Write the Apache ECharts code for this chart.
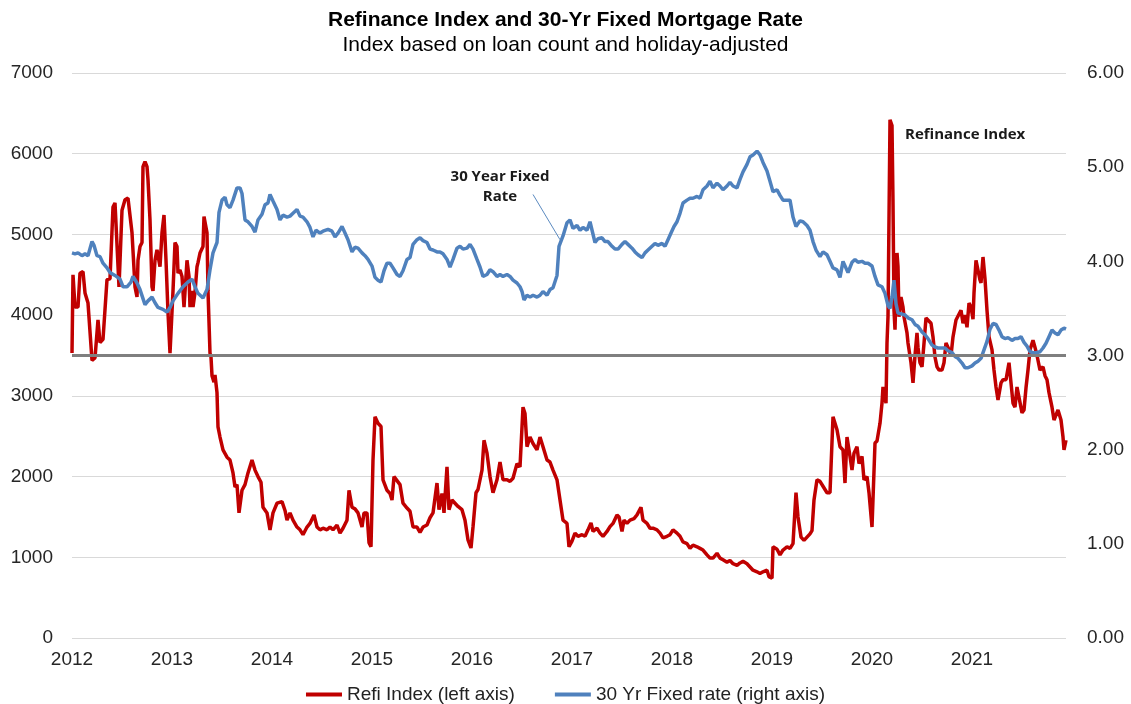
<!DOCTYPE html>
<html>
<head>
<meta charset="utf-8">
<title>Refinance Index and 30-Yr Fixed Mortgage Rate</title>
<script src="https://cdn.jsdelivr.net/npm/echarts@6/dist/echarts.min.js"></script>
<style>
  html, body { margin: 0; padding: 0; background: #fff; }
  #main { width: 1131px; height: 704px; }
</style>
</head>
<body>
<div id="main"></div>
<script>
// x values are years elapsed since Jan 2012
const startYear = 2012
const endYear = 2021.94
const seriesNames = ['Refi Index (left axis)', '30 Yr Fixed rate (right axis)']

// refinance index, left axis
const refi = [
  [0.00, 3530], [0.01, 4500], [0.03, 4100], [0.06, 4100], [0.08, 4520], [0.11, 4540], [0.13, 4275], [0.16, 4150],
  [0.20, 3440], [0.23, 3470], [0.26, 3940], [0.28, 3660], [0.31, 3700], [0.35, 4440], [0.38, 4450], [0.41, 5340],
  [0.43, 5390], [0.45, 5370], [0.47, 4350], [0.50, 5300], [0.53, 5430], [0.56, 5450], [0.60, 5020], [0.63, 4350],
  [0.65, 4225], [0.66, 4680], [0.68, 4850], [0.70, 4900], [0.71, 5840], [0.73, 5900], [0.75, 5840], [0.76, 5675],
  [0.78, 5180], [0.80, 4350], [0.81, 4300], [0.83, 4680], [0.85, 4810], [0.86, 4790], [0.88, 4600], [0.90, 5020],
  [0.92, 5240], [0.94, 4680], [0.96, 4030], [0.98, 3530], [1.01, 4300], [1.03, 4900], [1.05, 4850], [1.06, 4520],
  [1.08, 4560], [1.10, 4480], [1.12, 4100], [1.14, 4480], [1.15, 4680], [1.17, 4480], [1.18, 4100], [1.20, 4300],
  [1.21, 4100], [1.23, 4280], [1.25, 4600], [1.26, 4650], [1.28, 4770], [1.31, 4850], [1.32, 5220], [1.35, 5020],
  [1.36, 4300], [1.38, 3530], [1.39, 3480], [1.40, 3250], [1.42, 3170], [1.43, 3260], [1.45, 3040], [1.46, 2615],
  [1.48, 2490], [1.51, 2330], [1.55, 2240], [1.58, 2205], [1.61, 2045], [1.63, 1870], [1.65, 1900], [1.67, 1550],
  [1.70, 1830], [1.73, 1900], [1.76, 2045], [1.80, 2205], [1.83, 2080], [1.86, 2000], [1.89, 1930], [1.91, 1620],
  [1.95, 1550], [1.98, 1340], [2.01, 1550], [2.05, 1670], [2.10, 1690], [2.13, 1580], [2.15, 1460], [2.18, 1550],
  [2.21, 1460], [2.25, 1375], [2.28, 1340], [2.31, 1280], [2.35, 1375], [2.38, 1420], [2.42, 1525], [2.45, 1375],
  [2.48, 1340], [2.51, 1360], [2.55, 1340], [2.58, 1375], [2.61, 1340], [2.65, 1400], [2.68, 1300], [2.71, 1360],
  [2.75, 1460], [2.77, 1830], [2.80, 1620], [2.83, 1600], [2.86, 1550], [2.90, 1375], [2.92, 1550], [2.95, 1550],
  [2.97, 1180], [2.99, 1130], [3.01, 2205], [3.03, 2740], [3.06, 2660], [3.09, 2620], [3.11, 1960], [3.15, 1830],
  [3.18, 1790], [3.20, 1710], [3.22, 2000], [3.25, 1950], [3.28, 1900], [3.31, 1670], [3.35, 1610], [3.38, 1570],
  [3.41, 1375], [3.45, 1375], [3.48, 1310], [3.51, 1375], [3.55, 1400], [3.58, 1490], [3.61, 1550], [3.65, 1920],
  [3.67, 1590], [3.70, 1790], [3.72, 1550], [3.75, 2120], [3.77, 1590], [3.80, 1710], [3.83, 1670], [3.86, 1630],
  [3.90, 1590], [3.93, 1460], [3.96, 1215], [3.99, 1115], [4.01, 1375], [4.04, 1800], [4.06, 1840], [4.10, 2080],
  [4.12, 2450], [4.15, 2290], [4.18, 2000], [4.21, 1800], [4.25, 1960], [4.28, 2180], [4.31, 1960], [4.35, 1960],
  [4.38, 1940], [4.41, 1980], [4.45, 2160], [4.48, 2120], [4.51, 2860], [4.53, 2780], [4.55, 2370], [4.58, 2490],
  [4.61, 2410], [4.65, 2330], [4.68, 2490], [4.71, 2370], [4.75, 2205], [4.78, 2180], [4.81, 2080], [4.85, 1960],
  [4.88, 1710], [4.91, 1460], [4.95, 1420], [4.97, 1130], [5.00, 1200], [5.03, 1300], [5.06, 1260], [5.10, 1280],
  [5.13, 1260], [5.16, 1340], [5.19, 1425], [5.21, 1320], [5.25, 1360], [5.28, 1300], [5.31, 1260], [5.35, 1320],
  [5.38, 1380], [5.41, 1420], [5.45, 1525], [5.47, 1500], [5.50, 1320], [5.52, 1460], [5.55, 1420], [5.58, 1460],
  [5.62, 1480], [5.65, 1525], [5.69, 1620], [5.71, 1460], [5.75, 1420], [5.78, 1360], [5.81, 1360], [5.85, 1340],
  [5.88, 1300], [5.91, 1240], [5.95, 1260], [5.98, 1280], [6.01, 1340], [6.05, 1300], [6.08, 1260], [6.11, 1190],
  [6.15, 1170], [6.18, 1110], [6.21, 1150], [6.25, 1130], [6.28, 1110], [6.31, 1090], [6.35, 1030], [6.38, 990],
  [6.41, 990], [6.45, 1050], [6.48, 990], [6.51, 970], [6.55, 940], [6.58, 960], [6.61, 920], [6.65, 900],
  [6.68, 930], [6.71, 950], [6.75, 920], [6.78, 880], [6.81, 840], [6.85, 820], [6.88, 800], [6.91, 820],
  [6.95, 840], [6.97, 760], [7.00, 740], [7.01, 1130], [7.05, 1100], [7.08, 1030], [7.11, 1090], [7.15, 1130],
  [7.18, 1110], [7.21, 1170], [7.24, 1800], [7.26, 1500], [7.29, 1250], [7.32, 1210], [7.35, 1250], [7.38, 1290],
  [7.40, 1330], [7.42, 1710], [7.45, 1960], [7.48, 1940], [7.51, 1880], [7.55, 1800], [7.58, 1800], [7.61, 2740],
  [7.63, 2760], [7.65, 2580], [7.68, 2370], [7.71, 2330], [7.73, 1920], [7.75, 2490], [7.78, 2250], [7.80, 2080],
  [7.82, 2290], [7.85, 2370], [7.87, 2160], [7.90, 2250], [7.92, 1960], [7.95, 2000], [7.97, 1800], [8.00, 1375],
  [8.03, 2415], [8.05, 2440], [8.08, 2660], [8.10, 2910], [8.11, 3110], [8.13, 3100], [8.14, 2910], [8.15, 3655],
  [8.16, 3980], [8.18, 6420], [8.20, 6350], [8.21, 5400], [8.22, 4060], [8.23, 3820], [8.25, 4770], [8.26, 4600],
  [8.27, 3980], [8.29, 4225], [8.31, 4100], [8.32, 3980], [8.35, 3780], [8.36, 3655], [8.39, 3410], [8.41, 3160],
  [8.43, 3500], [8.45, 3780], [8.46, 3600], [8.48, 3410], [8.50, 3360], [8.52, 3650], [8.54, 3965], [8.56, 3980],
  [8.59, 3900], [8.61, 3730], [8.63, 3480], [8.65, 3360], [8.67, 3320], [8.70, 3320], [8.72, 3410], [8.74, 3655],
  [8.76, 3600], [8.79, 3500], [8.81, 3730], [8.84, 3940], [8.86, 3950], [8.89, 4060], [8.91, 3900], [8.93, 4000],
  [8.95, 3850], [8.97, 4150], [8.99, 4100], [9.01, 3950], [9.02, 4275], [9.04, 4680], [9.06, 4700], [9.08, 4435],
  [9.09, 4400], [9.11, 4720], [9.13, 4450], [9.15, 4060], [9.17, 3730], [9.20, 3570], [9.22, 3320], [9.24, 3110],
  [9.26, 2950], [9.29, 3160], [9.31, 3200], [9.34, 3200], [9.37, 3410], [9.39, 3160], [9.41, 2910], [9.43, 2860],
  [9.45, 3110], [9.47, 3110], [9.50, 2790], [9.52, 2825], [9.54, 3100], [9.56, 3320], [9.58, 3570], [9.61, 3690],
  [9.63, 3600], [9.65, 3500], [9.68, 3320], [9.71, 3360], [9.73, 3250], [9.75, 3200], [9.77, 3040], [9.80, 2860],
  [9.82, 2700], [9.84, 2700], [9.86, 2825], [9.89, 2700], [9.91, 2490], [9.92, 2330], [9.94, 2450]
]

// 30 year fixed rate, right axis
const rate = [
  [0.00, 4.09], [0.03, 4.08], [0.06, 4.09], [0.10, 4.06], [0.13, 4.08], [0.16, 4.06], [0.20, 4.21], [0.22, 4.17],
  [0.25, 4.06], [0.28, 4.05], [0.31, 3.98], [0.35, 3.93], [0.38, 3.88], [0.43, 3.85], [0.48, 3.81], [0.51, 3.73],
  [0.55, 3.73], [0.59, 3.78], [0.61, 3.84], [0.65, 3.77], [0.68, 3.70], [0.73, 3.54], [0.76, 3.58], [0.80, 3.62],
  [0.83, 3.56], [0.86, 3.51], [0.91, 3.49], [0.95, 3.46], [0.98, 3.51], [1.01, 3.58], [1.06, 3.66], [1.11, 3.73],
  [1.16, 3.78], [1.20, 3.81], [1.23, 3.73], [1.26, 3.66], [1.31, 3.61], [1.35, 3.70], [1.38, 3.91], [1.41, 4.09],
  [1.45, 4.20], [1.47, 4.52], [1.50, 4.65], [1.53, 4.68], [1.55, 4.60], [1.58, 4.57], [1.61, 4.65], [1.65, 4.78],
  [1.68, 4.78], [1.70, 4.72], [1.73, 4.44], [1.76, 4.42], [1.80, 4.37], [1.83, 4.31], [1.86, 4.44], [1.90, 4.50],
  [1.93, 4.60], [1.96, 4.62], [1.98, 4.71], [2.01, 4.64], [2.05, 4.55], [2.08, 4.44], [2.11, 4.49], [2.15, 4.47],
  [2.18, 4.48], [2.21, 4.51], [2.25, 4.55], [2.28, 4.48], [2.31, 4.47], [2.35, 4.42], [2.38, 4.36], [2.41, 4.26],
  [2.44, 4.33], [2.48, 4.30], [2.51, 4.32], [2.56, 4.34], [2.60, 4.32], [2.63, 4.26], [2.66, 4.30], [2.70, 4.37],
  [2.73, 4.30], [2.76, 4.23], [2.80, 4.10], [2.83, 4.15], [2.86, 4.14], [2.90, 4.09], [2.93, 4.06], [2.96, 4.02],
  [3.00, 3.95], [3.03, 3.83], [3.06, 3.80], [3.09, 3.78], [3.12, 3.90], [3.15, 3.98], [3.18, 3.98], [3.21, 3.93],
  [3.25, 3.86], [3.28, 3.84], [3.31, 3.90], [3.35, 4.02], [3.38, 4.04], [3.41, 4.18], [3.45, 4.23], [3.48, 4.25],
  [3.51, 4.22], [3.55, 4.20], [3.58, 4.13], [3.61, 4.12], [3.65, 4.10], [3.68, 4.10], [3.71, 4.08], [3.75, 4.02],
  [3.78, 3.94], [3.81, 4.02], [3.85, 4.14], [3.88, 4.16], [3.91, 4.13], [3.95, 4.14], [3.98, 4.18], [4.01, 4.13],
  [4.05, 4.02], [4.08, 3.94], [4.11, 3.84], [4.15, 3.86], [4.18, 3.91], [4.21, 3.89], [4.25, 3.84], [4.28, 3.86],
  [4.31, 3.84], [4.35, 3.86], [4.38, 3.84], [4.41, 3.80], [4.45, 3.77], [4.48, 3.73], [4.50, 3.68], [4.52, 3.59],
  [4.55, 3.64], [4.58, 3.62], [4.61, 3.64], [4.65, 3.62], [4.68, 3.64], [4.71, 3.68], [4.75, 3.64], [4.78, 3.70],
  [4.81, 3.72], [4.85, 3.85], [4.87, 4.16], [4.91, 4.27], [4.95, 4.41], [4.98, 4.44], [5.01, 4.35], [5.05, 4.38],
  [5.08, 4.33], [5.11, 4.36], [5.15, 4.33], [5.18, 4.42], [5.20, 4.44], [5.23, 4.20], [5.26, 4.24], [5.30, 4.25],
  [5.33, 4.21], [5.36, 4.21], [5.40, 4.16], [5.43, 4.13], [5.46, 4.13], [5.50, 4.18], [5.53, 4.21], [5.56, 4.18],
  [5.60, 4.14], [5.63, 4.10], [5.66, 4.07], [5.70, 4.04], [5.73, 4.09], [5.76, 4.12], [5.80, 4.16], [5.83, 4.19],
  [5.86, 4.17], [5.90, 4.19], [5.93, 4.16], [5.96, 4.23], [5.99, 4.30], [6.02, 4.37], [6.05, 4.42], [6.08, 4.51],
  [6.11, 4.62], [6.15, 4.65], [6.18, 4.67], [6.21, 4.67], [6.25, 4.69], [6.28, 4.67], [6.31, 4.76], [6.35, 4.80],
  [6.38, 4.85], [6.41, 4.78], [6.45, 4.83], [6.48, 4.80], [6.51, 4.76], [6.55, 4.80], [6.58, 4.84], [6.61, 4.80],
  [6.65, 4.78], [6.68, 4.87], [6.71, 4.95], [6.75, 5.03], [6.78, 5.11], [6.81, 5.13], [6.85, 5.17], [6.88, 5.13],
  [6.91, 5.05], [6.95, 4.96], [6.98, 4.85], [7.01, 4.74], [7.05, 4.76], [7.08, 4.70], [7.11, 4.65], [7.15, 4.65],
  [7.18, 4.65], [7.21, 4.47], [7.24, 4.37], [7.28, 4.43], [7.31, 4.42], [7.35, 4.38], [7.38, 4.33], [7.41, 4.21],
  [7.44, 4.12], [7.48, 4.05], [7.51, 4.10], [7.55, 4.07], [7.58, 4.00], [7.61, 3.93], [7.65, 3.91], [7.68, 3.83],
  [7.71, 4.00], [7.73, 4.00], [7.76, 3.88], [7.80, 3.99], [7.83, 4.02], [7.86, 3.99], [7.90, 4.00], [7.93, 3.98],
  [7.96, 3.98], [8.00, 3.95], [8.03, 3.84], [8.06, 3.75], [8.10, 3.73], [8.13, 3.66], [8.16, 3.53], [8.18, 3.50],
  [8.20, 3.62], [8.22, 3.80], [8.24, 3.55], [8.26, 3.45], [8.30, 3.44], [8.33, 3.43], [8.36, 3.40], [8.40, 3.38],
  [8.43, 3.33], [8.46, 3.31], [8.50, 3.25], [8.53, 3.22], [8.56, 3.18], [8.60, 3.11], [8.63, 3.09], [8.66, 3.08],
  [8.70, 3.08], [8.73, 3.08], [8.76, 3.05], [8.80, 3.03], [8.83, 2.99], [8.86, 2.97], [8.90, 2.92], [8.93, 2.87],
  [8.96, 2.87], [9.00, 2.89], [9.03, 2.92], [9.06, 2.94], [9.09, 2.97], [9.12, 3.06], [9.15, 3.15], [9.18, 3.28],
  [9.21, 3.34], [9.24, 3.33], [9.27, 3.27], [9.30, 3.20], [9.33, 3.18], [9.36, 3.19], [9.40, 3.16], [9.43, 3.18],
  [9.46, 3.18], [9.49, 3.20], [9.52, 3.14], [9.55, 3.10], [9.58, 3.04], [9.61, 3.03], [9.64, 3.03], [9.68, 3.04],
  [9.71, 3.08], [9.74, 3.13], [9.77, 3.20], [9.80, 3.27], [9.83, 3.24], [9.86, 3.22], [9.89, 3.27], [9.92, 3.29],
  [9.94, 3.28]
]

// reference line (3500 on left = 3.00 on right) and the pointer of the rate label
const refLevel = 3500
const ratePointer = [[4.61, 4.71], [4.88, 4.23]]

const font = 'Liberation Sans, Arial, Helvetica, sans-serif'
const toYear = arr => arr.map(p => [startYear + p[0], p[1]])

let chart = echarts.init(document.getElementById('main'))
let option = {
  animation: false,
  backgroundColor: '#ffffff',
  title: {
    text: 'Refinance Index and 30-Yr Fixed Mortgage Rate',
    subtext: 'Index based on loan count and holiday-adjusted',
    left: 'center',
    top: 5,
    itemGap: 4,
    textStyle: { fontFamily: font, fontSize: 21, fontWeight: 'bold', color: '#000' },
    subtextStyle: { fontFamily: font, fontSize: 21, color: '#000' }
  },
  legend: {
    data: seriesNames,
    left: 'center',
    top: 680,
    icon: 'rect',
    itemWidth: 36,
    itemHeight: 4,
    itemGap: 40,
    textStyle: { fontFamily: font, fontSize: 19, color: '#222' }
  },
  grid: { left: 72, right: 65, top: 73, bottom: 66 },
  xAxis: {
    type: 'value',
    min: startYear,
    max: endYear,
    interval: 1,
    axisLine: { show: false },
    axisTick: { show: false },
    splitLine: { show: false },
    axisLabel: {
      fontFamily: font, fontSize: 19, color: '#262626', margin: 12,
      showMaxLabel: false,
      formatter: v => Number.isInteger(v) ? String(v) : ''
    }
  },
  yAxis: [
    {
      type: 'value', min: 0, max: 7000, interval: 1000,
      axisLine: { show: false }, axisTick: { show: false },
      splitLine: { lineStyle: { color: '#d9d9d9', width: 1 } },
      axisLabel: { fontFamily: font, fontSize: 19, color: '#262626', margin: 19, formatter: v => String(v) }
    },
    {
      type: 'value', min: 0, max: 6, interval: 1, position: 'right',
      axisLine: { show: false }, axisTick: { show: false },
      splitLine: { show: false },
      axisLabel: { fontFamily: font, fontSize: 19, color: '#262626', margin: 21, formatter: v => v.toFixed(2) }
    }
  ],
  series: [
    {
      name: seriesNames[0],
      type: 'line',
      yAxisIndex: 0,
      data: toYear(refi),
      showSymbol: false,
      symbol: 'none',
      color: '#c00000',
      lineStyle: { color: '#c00000', width: 3.5 },
      markLine: {
        silent: true,
        symbol: 'none',
        label: { show: false },
        lineStyle: { color: '#7f7f7f', width: 3, type: 'solid' },
        data: [{ yAxis: refLevel }]
      }
    },
    {
      name: seriesNames[1],
      type: 'line',
      yAxisIndex: 1,
      data: toYear(rate),
      showSymbol: false,
      symbol: 'none',
      color: '#4f81bd',
      lineStyle: { color: '#4f81bd', width: 3.5 },
      markLine: {
        silent: true,
        symbol: 'none',
        label: { show: false },
        lineStyle: { color: '#5b8ac0', width: 1, type: 'solid' },
        data: [[
          { coord: [startYear + ratePointer[0][0], ratePointer[0][1]] },
          { coord: [startYear + ratePointer[1][0], ratePointer[1][1]] }
        ]]
      }
    }
  ],
  graphic: [
    {
      type: 'text', x: 500, y: 167,
      style: {
        text: '30 Year Fixed\nRate', align: 'center', fill: '#1a1a1a',
        font: 'bold 15px "Open Sans", sans-serif', lineHeight: 20
      }
    },
    {
      type: 'text', x: 905, y: 127,
      style: { text: 'Refinance Index', fill: '#1a1a1a', font: 'bold 15px "Open Sans", sans-serif' }
    }
  ]
}
chart.setOption(option)
</script>
</body>
</html>
